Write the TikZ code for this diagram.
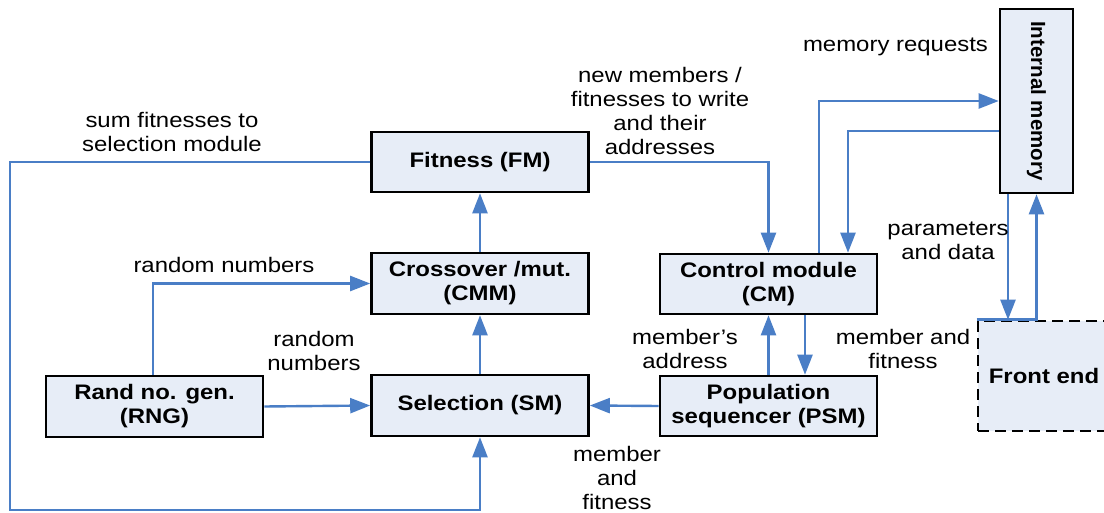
\documentclass[tikz,border=0pt]{standalone}
\usepackage{fontspec}
\setmainfont[FakeStretch=1.14]{Liberation Sans}
\newfontfamily\uprightsans{Liberation Sans}
\usetikzlibrary{arrows.meta,calc}
\definecolor{boxfill}{HTML}{E7EDF7}
\definecolor{wire}{HTML}{4A7EC6}
\tikzset{
  block/.style={draw=black, line width=2.6pt, fill=boxfill, align=center,
    font=\fontsize{21}{24}\selectfont\bfseries, inner sep=0pt},
  wirel/.style={draw=wire, line width=2.4pt},
  flow/.style={wirel, -{Triangle[length=20pt,width=15pt]}},
  lbl/.style={align=center, font=\fontsize{21}{24}\selectfont, inner sep=0pt}
}
\begin{document}
\begin{tikzpicture}[x=1pt,y=-1pt]
\clip (0,0) rectangle (1104,513);
\fill[white] (0,0) rectangle (1104,513);

% function blocks
\node[block, minimum width=217pt, minimum height=60pt] (fm)  at (480,162)   {Fitness (FM)};
\node[block, minimum width=217pt, minimum height=61pt] (cmm) at (480,283.5) {Crossover /mut.\\(CMM)};
\node[block, minimum width=217pt, minimum height=61pt] (sm)  at (480,405.5) {Selection (SM)};
\node[block, minimum width=217pt, minimum height=61pt] (rng) at (154.5,406.5) {Rand no. gen.\\(RNG)};
\node[block, minimum width=217pt, minimum height=60pt] (cm)  at (768.5,284) {Control module\\(CM)};
\node[block, minimum width=217pt, minimum height=60pt] (psm) at (768.5,406) {Population\\sequencer (PSM)};
\node[block, minimum width=73pt, minimum height=184pt] (im) at (1036.5,101)
  {\rotatebox{-90}{\uprightsans\fontsize{20.5}{24}\selectfont\bfseries Internal memory}};
\node[block, dash pattern=on 11pt off 6pt, minimum width=132pt, minimum height=110pt] (fe) at (1044,376) {Front end};

% connectors
\draw[flow] (fm.west) -- (10,162) -- (10,510) -| (sm.south);
\draw[flow] (fm.east) -| (cm.north);
\draw[flow] ([xshift=50.5pt]cm.north) |- (im.west);
\draw[flow] ([yshift=-30pt]im.west) -| ([xshift=79.5pt]cm.north);
\draw[flow] ([xshift=-28.5pt]im.south) -- ([xshift=-28.5pt]im.south |- fe.north);
\draw[flow] (fe.north west) -| (im.south);
\draw[flow] (cmm.north) -- (fm.south);
\draw[flow] (sm.north) -- (cmm.south);
\draw[flow] ([xshift=-1.5pt]rng.north) |- (cmm.west);
\draw[flow] (rng.east) -- (sm.west);
\draw[flow] (psm.west) -- (sm.east);
\draw[flow] (psm.north) -- (cm.south);
\draw[flow] ([xshift=36.5pt]cm.south) -- ([xshift=36.5pt]psm.north);

% connector labels
\node[lbl] (l1) at (172,132) {sum fitnesses to\\selection module};
\node[lbl] (l2) at (224,265) {random numbers};
\node[lbl] (l3) at (314,351) {random\\numbers};
\node[lbl] (l4) at (660,111) {new members /\\fitnesses to write\\and their\\addresses};
\node[lbl] (l5) at (895.5,47) {memory requests};
\node[lbl] (l6) at (948,241) {parameters\\and data};
\node[lbl] (l7) at (685,349) {member’s\\address};
\node[lbl] (l8) at (903,349) {member and\\fitness};
\node[lbl] (l9) at (617,478) {member\\and\\fitness};
\end{tikzpicture}
\end{document}
